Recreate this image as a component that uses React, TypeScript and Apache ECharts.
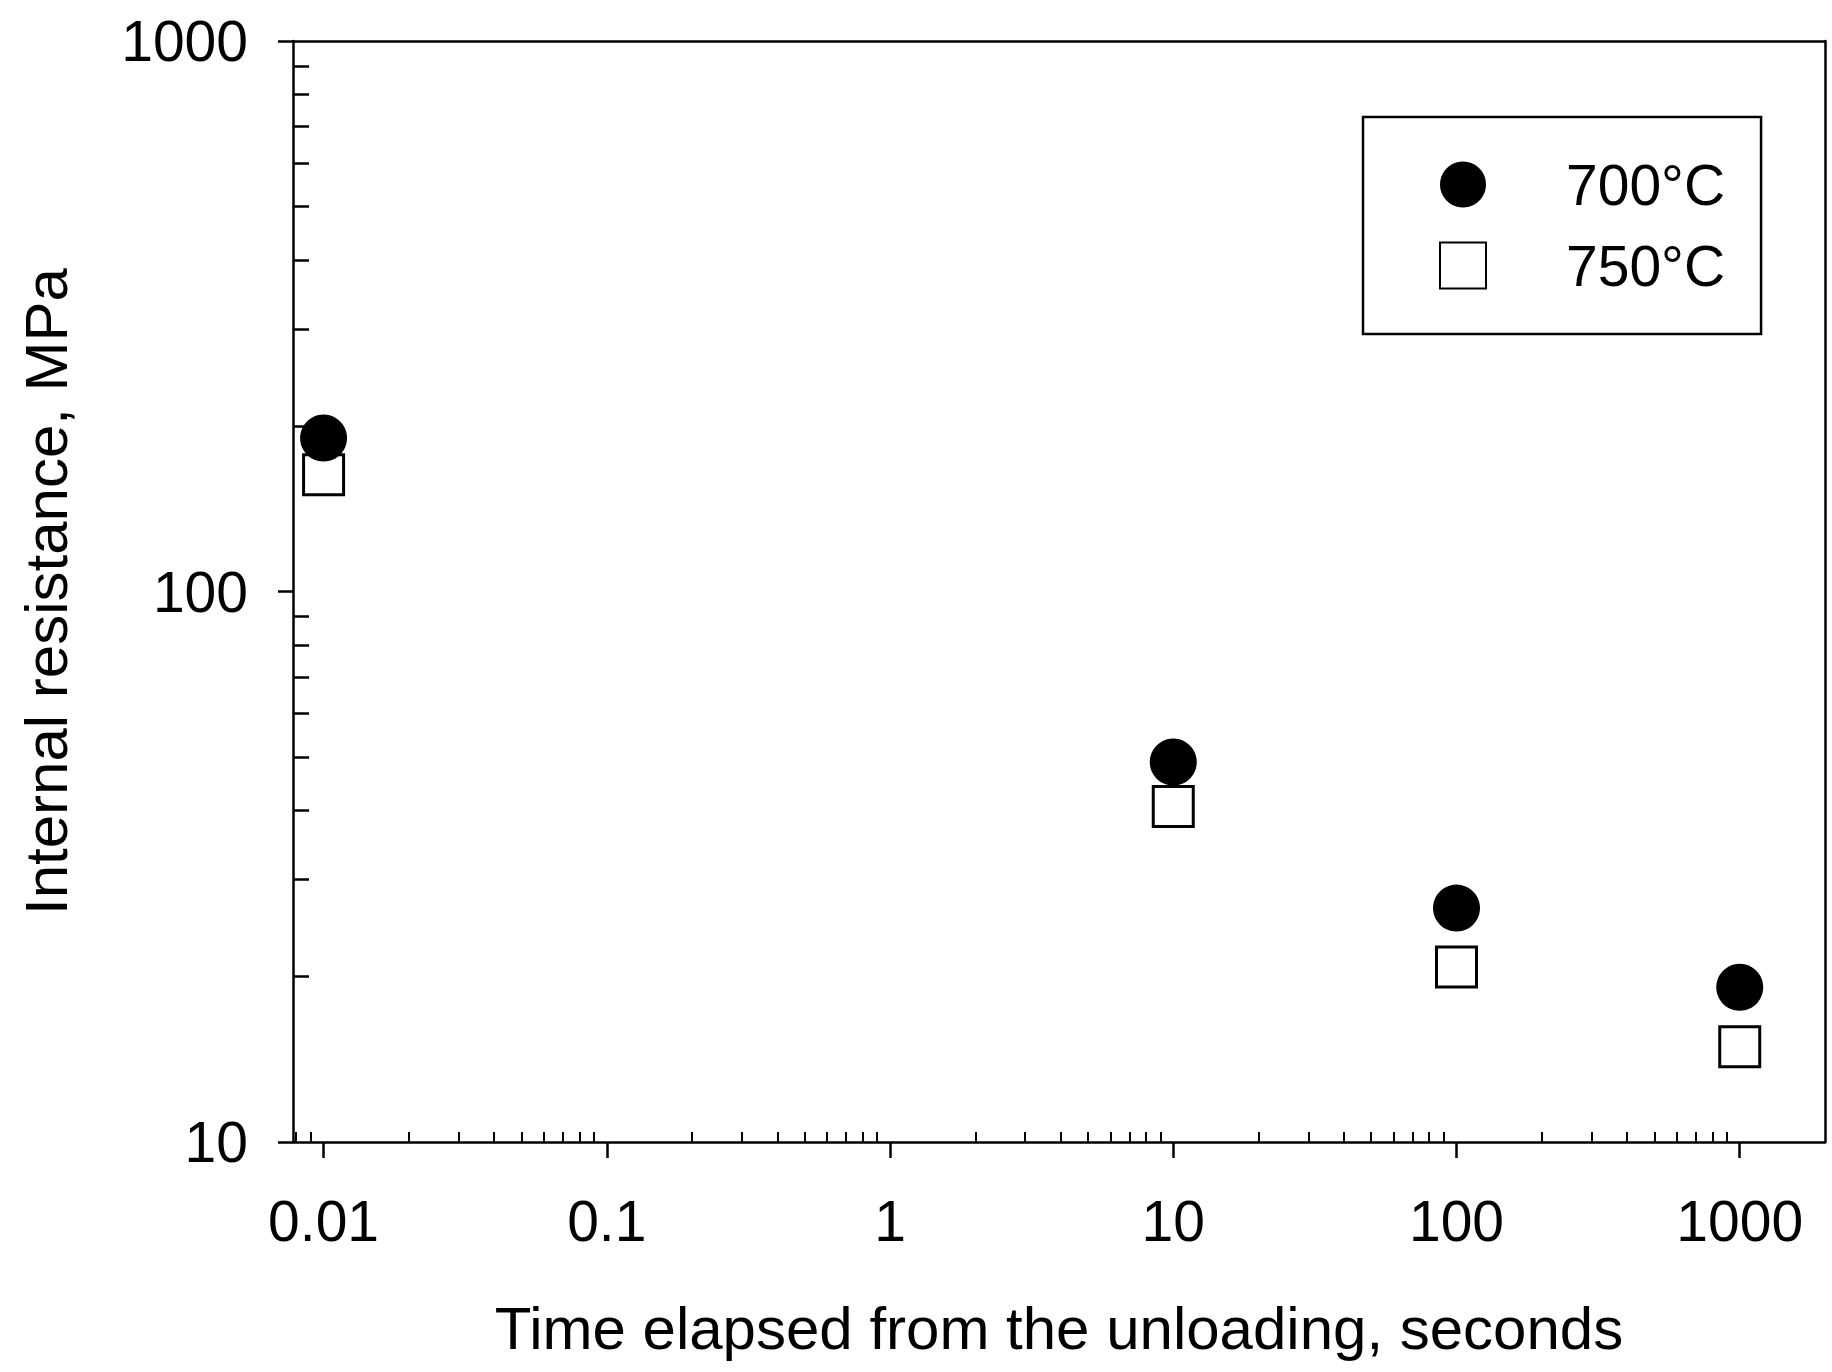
import React, { useEffect, useRef } from 'react';
import * as echarts from 'echarts';

// ---- data ----
const timeSeconds = [0.01, 10, 100, 1000];
const resistance700 = [190, 49, 26.6, 19.1];
const resistance750 = [163, 40.7, 20.8, 14.9];
const seriesNames = ['700°C', '750°C'];

const xMajorTicks = [0.01, 0.1, 1, 10, 100, 1000];
const xTickLabels = ['0.01', '0.1', '1', '10', '100', '1000'];
const xMinorTicks = [
  0.008, 0.009,
  0.02, 0.03, 0.04, 0.05, 0.06, 0.07, 0.08, 0.09,
  0.2, 0.3, 0.4, 0.5, 0.6, 0.7, 0.8, 0.9,
  2, 3, 4, 5, 6, 7, 8, 9,
  20, 30, 40, 50, 60, 70, 80, 90,
  200, 300, 400, 500, 600, 700, 800, 900,
];
const yMajorTicks = [10, 100, 1000];
const yTickLabels = ['10', '100', '1000'];
const yMinorTicks = [
  20, 30, 40, 50, 60, 70, 80, 90,
  200, 300, 400, 500, 600, 700, 800, 900,
];

const xTitle = 'Time elapsed from the unloading, seconds';
const yTitle = 'Internal resistance, MPa';

const FONT = 'Liberation Sans, Arial, Helvetica, sans-serif';
const INK = '#000';

function labelFor(ticks: number[], labels: string[]) {
  return (v: number) => {
    const i = ticks.findIndex((t) => Math.abs(Math.log10(t) - Math.log10(v)) < 1e-6);
    return i >= 0 ? labels[i] : '';
  };
}

export default function App() {
  const ref = useRef<HTMLDivElement>(null);

  useEffect(() => {
    if (!ref.current) return;
    const chart = echarts.init(ref.current, null, { renderer: 'svg' });

    const lineStyle = { color: INK, width: 2.5 };
    const xRange = { min: 0.0078, max: 2000 };
    const yRange = { min: 10, max: 1000 };

    chart.setOption({
      animation: false,
      backgroundColor: '#fff',
      grid: { left: 293, right: 7, top: 41, bottom: 230, containLabel: false },
      legend: {
        orient: 'vertical',
        left: 1363,
        top: 117,
        padding: [39, 36, 40, 76],
        itemWidth: 196,
        itemHeight: 46,
        itemGap: 24,
        backgroundColor: '#fff',
        borderColor: INK,
        borderWidth: 2.5,
        selectedMode: false,
        textStyle: { color: INK, fontSize: 57, fontFamily: FONT },
        data: [
          { name: seriesNames[0], icon: 'circle' },
          { name: seriesNames[1], icon: 'path://M0,0H10V10H0Z' },
        ],
      },
      xAxis: [
        {
          type: 'log',
          logBase: 10,
          ...xRange,
          position: 'bottom',
          name: xTitle,
          nameLocation: 'middle',
          nameGap: 156,
          nameTextStyle: { color: INK, fontSize: 60, fontFamily: FONT },
          axisLine: { show: true, lineStyle },
          axisTick: { show: true, inside: false, length: 16, lineStyle, customValues: xMajorTicks },
          axisLabel: {
            show: true,
            margin: 50,
            color: INK,
            fontSize: 57,
            fontFamily: FONT,
            customValues: xMajorTicks,
            formatter: labelFor(xMajorTicks, xTickLabels),
          },
          splitLine: { show: false },
          minorTick: { show: false },
        },
        {
          type: 'log',
          logBase: 10,
          ...xRange,
          position: 'bottom',
          offset: 0,
          axisLine: { show: false },
          axisTick: { show: true, inside: true, length: 10, lineStyle: { color: INK, width: 2 }, customValues: xMinorTicks },
          axisLabel: { show: false },
          splitLine: { show: false },
        },
        {
          type: 'log',
          logBase: 10,
          ...xRange,
          position: 'top',
          axisLine: { show: true, lineStyle },
          axisTick: { show: false },
          axisLabel: { show: false },
          splitLine: { show: false },
        },
      ],
      yAxis: [
        {
          type: 'log',
          logBase: 10,
          ...yRange,
          position: 'left',
          name: yTitle,
          nameLocation: 'middle',
          nameGap: 217,
          nameTextStyle: { color: INK, fontSize: 60, fontFamily: FONT },
          axisLine: { show: true, lineStyle },
          axisTick: { show: true, inside: false, length: 15, lineStyle, customValues: yMajorTicks },
          axisLabel: {
            show: true,
            margin: 45,
            color: INK,
            fontSize: 57,
            fontFamily: FONT,
            customValues: yMajorTicks,
            formatter: labelFor(yMajorTicks, yTickLabels),
          },
          splitLine: { show: false },
          minorTick: { show: false },
        },
        {
          type: 'log',
          logBase: 10,
          ...yRange,
          position: 'left',
          offset: 0,
          axisLine: { show: false },
          axisTick: { show: true, inside: true, length: 16, lineStyle: { color: INK, width: 2.5 }, customValues: yMinorTicks },
          axisLabel: { show: false },
          splitLine: { show: false },
        },
        {
          type: 'log',
          logBase: 10,
          ...yRange,
          position: 'right',
          axisLine: { show: true, lineStyle },
          axisTick: { show: false },
          axisLabel: { show: false },
          splitLine: { show: false },
        },
      ],
      series: [
        {
          name: seriesNames[0],
          type: 'scatter',
          xAxisIndex: 0,
          yAxisIndex: 0,
          z: 4,
          symbol: 'circle',
          symbolSize: 47,
          itemStyle: { color: INK, opacity: 1 },
          emphasis: { disabled: true },
          data: timeSeconds.map((t, i) => [t, resistance700[i]]),
        },
        {
          name: seriesNames[1],
          type: 'scatter',
          xAxisIndex: 0,
          yAxisIndex: 0,
          z: 3,
          symbol: 'rect',
          symbolSize: 40,
          itemStyle: { color: '#fff', borderColor: INK, borderWidth: 3, opacity: 1 },
          emphasis: { disabled: true },
          data: timeSeconds.map((t, i) => [t, resistance750[i]]),
        },
      ],
    });

    return () => chart.dispose();
  }, []);

  return (
    <div
      ref={ref}
      style={{ position: 'fixed', left: 0, top: 0, width: 1832, height: 1372, background: '#fff' }}
    />
  );
}
